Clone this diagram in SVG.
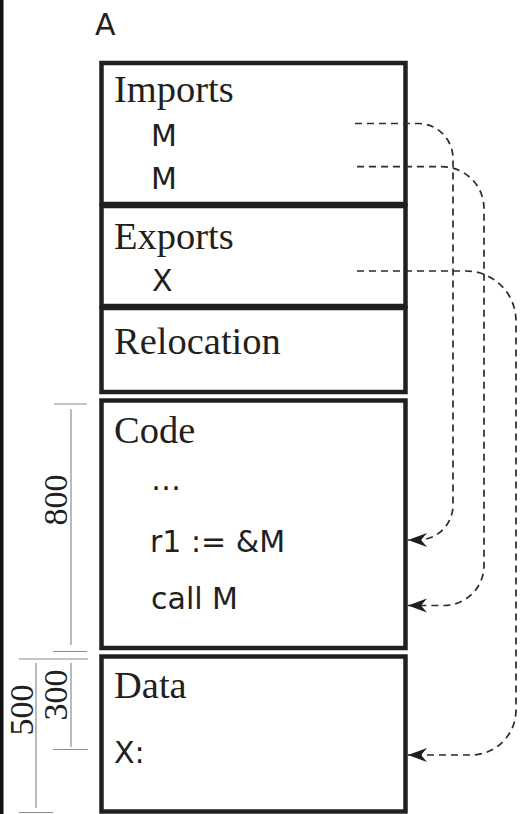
<svg xmlns="http://www.w3.org/2000/svg" width="529" height="814" viewBox="0 0 529 814">
<defs>
<style>
.box{fill:none;stroke:#231f20;stroke-width:4.5}
.ser{font-family:"Liberation Serif",serif;font-size:38.5px;fill:#231f20}
.sans{font-family:"DejaVu Sans","Liberation Sans",sans-serif;font-size:30px;fill:#231f20}
.dim line{stroke:#8c8c8c;stroke-width:1.2}
.dimt{font-family:"Liberation Serif",serif;font-size:34px;fill:#231f20;text-anchor:middle}
.conn path{fill:none;stroke:#2b2b2b;stroke-width:1.7;stroke-dasharray:7 5}
</style>
<marker id="arr" markerUnits="userSpaceOnUse" markerWidth="20" markerHeight="16" refX="19" refY="8" orient="auto" viewBox="0 0 20 16">
<path d="M19,8 L0,1 L6,8 L0,15 Z" fill="#1e1e1e"/>
</marker>
</defs>
<rect x="0" y="0" width="3.5" height="814" fill="#111"/>
<text class="sans" x="95" y="35" style="font-size:30px">A</text>
<g id="imports">
<rect class="box" x="101.5" y="63" width="304" height="141"/>
<text class="ser" x="114" y="101.5">Imports</text>
<text class="sans" x="151" y="146">M</text>
<text class="sans" x="151" y="188.5">M</text>
</g>
<g id="exports">
<rect class="box" x="101.5" y="206" width="304" height="100"/>
<text class="ser" x="114" y="248.5">Exports</text>
<text class="sans" x="152" y="290.5">X</text>
</g>
<g id="relocation">
<rect class="box" x="101.5" y="308" width="304" height="84"/>
<text class="ser" x="114" y="353.5">Relocation</text>
</g>
<g id="code">
<rect class="box" x="101.5" y="400.5" width="304" height="247.5"/>
<text class="ser" x="114" y="443">Code</text>
<text class="sans" x="151" y="490">…</text>
<text class="sans" x="150" y="551.5">r1 := &amp;M</text>
<text class="sans" x="151" y="608.5">call M</text>
</g>
<g id="data">
<rect class="box" x="101.5" y="656.5" width="304" height="155"/>
<text class="ser" x="114" y="698">Data</text>
<text class="sans" x="114" y="763">X:</text>
</g>
<g id="dimensions" class="dim">
<line x1="54" y1="404" x2="87" y2="404"/>
<line x1="71" y1="409" x2="71" y2="645"/>
<line x1="53" y1="651.5" x2="87" y2="651.5"/>
<line x1="19" y1="659" x2="88" y2="659"/>
<line x1="71" y1="663" x2="71" y2="747"/>
<line x1="53" y1="749.5" x2="88" y2="749.5"/>
<line x1="36" y1="663" x2="36" y2="808"/>
<line x1="19" y1="812.5" x2="53" y2="812.5"/>
<text class="dimt" transform="translate(67,500) rotate(-90)">800</text>
<text class="dimt" transform="translate(67,695) rotate(-90)">300</text>
<text class="dimt" transform="translate(33,710) rotate(-90)">500</text>
</g>
<g id="connectors" class="conn">
<path d="M355,123.5 H418 A35,35 0 0 1 453,158.5 V505 A35,35 0 0 1 418,540 H408" marker-end="url(#arr)"/>
<path d="M357,166.7 H442 A42,42 0 0 1 484,208.7 V565 A40,40 0 0 1 444,605.5 H408" marker-end="url(#arr)"/>
<path d="M357,271 H466 A50,50 0 0 1 516,321 V710 A45,45 0 0 1 471,755 H408" marker-end="url(#arr)"/>
</g>
</svg>
